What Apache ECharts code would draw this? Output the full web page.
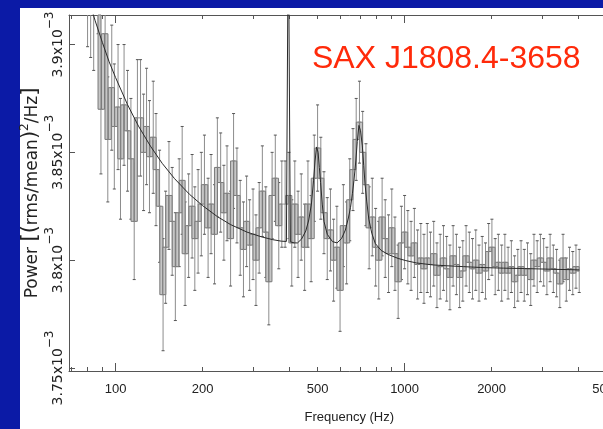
<!DOCTYPE html>
<html><head><meta charset="utf-8">
<script src="https://cdn.jsdelivr.net/npm/echarts@6/dist/echarts.min.js"></script>
<style>html,body{margin:0;padding:0;background:#0b1aa6;overflow:hidden}#c{width:640px;height:429px}</style>
</head><body><div id="c"></div>
<script>
// Frequency bins (Hz)
const freqs = [
  80, 82, 84, 87, 89, 92, 94, 97, 99, 102,
  104, 107, 110, 113, 116, 119, 122, 125, 128, 131,
  135, 138, 142, 146, 149, 153, 157, 161, 166, 170,
  174, 179, 184, 188, 193, 198, 203, 209, 214, 220,
  225, 231, 237, 243, 250, 256, 263, 270, 277, 284,
  291, 299, 306, 314, 322, 331, 339, 348, 357, 367,
  376, 386, 398, 407, 417, 428, 439, 451, 463, 475,
  487, 500, 513, 526, 540, 554, 568, 583, 598, 614,
  630, 646, 663, 680, 698, 716, 735, 754, 773, 794,
  814, 836, 857, 880, 903, 926, 950, 975, 1000, 1026,
  1053, 1081, 1109, 1138, 1167, 1198, 1229, 1261, 1294, 1328,
  1363, 1398, 1435, 1472, 1511, 1550, 1590, 1632, 1675, 1718,
  1763, 1809, 1856, 1905, 1954, 2005, 2058, 2111, 2167, 2223,
  2281, 2341, 2402, 2464, 2529, 2595, 2662, 2732, 2803, 2876,
  2951, 3028, 3107, 3188, 3271, 3357, 3444, 3534, 3626, 3721,
  3818, 3917, 4020
];
// Power, in units of 1e-3 (rms/mean)^2/Hz
const power = [
  3.930, 3.925, 3.918, 3.935, 3.870, 3.905, 3.856, 3.880, 3.862, 3.871,
  3.847, 3.872, 3.860, 3.847, 3.818, 3.866, 3.866, 3.850, 3.862, 3.848,
  3.857, 3.842, 3.825, 3.784, 3.806, 3.830, 3.818, 3.797, 3.822, 3.837,
  3.803, 3.816, 3.825, 3.810, 3.818, 3.826, 3.835, 3.815, 3.826, 3.812,
  3.843, 3.836, 3.822, 3.831, 3.810, 3.846, 3.830, 3.815, 3.805, 3.818,
  3.807, 3.812, 3.800, 3.815, 3.832, 3.813, 3.790, 3.830, 3.838, 3.816,
  3.826, 3.826, 3.830, 3.808, 3.826, 3.812, 3.820, 3.806, 3.826, 3.810,
  3.838, 3.852, 3.838, 3.822, 3.810, 3.814, 3.800, 3.806, 3.786, 3.816,
  3.808, 3.828, 3.842, 3.856, 3.864, 3.850, 3.835, 3.815, 3.820, 3.806,
  3.800, 3.820, 3.810, 3.803, 3.815, 3.803, 3.790, 3.808, 3.813, 3.806,
  3.802, 3.808, 3.798, 3.801, 3.796, 3.801, 3.798, 3.803, 3.793, 3.797,
  3.801, 3.796, 3.792, 3.802, 3.798, 3.792, 3.795, 3.802, 3.799, 3.796,
  3.800, 3.794, 3.798, 3.795, 3.804, 3.806, 3.797, 3.799, 3.794, 3.799,
  3.794, 3.797, 3.790, 3.793, 3.797, 3.793, 3.796, 3.791, 3.800, 3.797,
  3.801, 3.799, 3.795, 3.801, 3.796, 3.794, 3.789, 3.801, 3.791, 3.796,
  3.794, 3.797, 3.795
];
// 1-sigma errors, same units
const powerErr = [
  0.031, 0.031, 0.030, 0.030, 0.030, 0.030, 0.029, 0.029, 0.029, 0.029, 0.028, 0.028,
  0.028, 0.028, 0.027, 0.027, 0.027, 0.027, 0.027, 0.026, 0.026, 0.026, 0.026, 0.026,
  0.026, 0.025, 0.025, 0.025, 0.025, 0.025, 0.024, 0.024, 0.024, 0.024, 0.024,
  0.024, 0.023, 0.023, 0.023, 0.023, 0.023, 0.023, 0.022, 0.022, 0.022, 0.022, 0.022, 0.022, 0.022, 0.021, 0.021,
  0.021, 0.021, 0.021, 0.021, 0.021, 0.020, 0.020, 0.020, 0.020, 0.020, 0.020, 0.020, 0.020, 0.020, 0.020, 0.020, 0.020, 0.020, 0.020,
  0.020, 0.020, 0.019, 0.019, 0.019, 0.019, 0.019, 0.019, 0.019, 0.019, 0.019, 0.019, 0.019, 0.019, 0.019, 0.019,
  0.019, 0.019, 0.018, 0.018, 0.018, 0.018, 0.018, 0.018, 0.018, 0.017, 0.017, 0.017, 0.017,
  0.017, 0.016, 0.016, 0.016, 0.016, 0.016, 0.016, 0.015, 0.015, 0.015, 0.015, 0.015, 0.015, 0.015,
  0.014, 0.014, 0.014, 0.014, 0.014, 0.014, 0.014, 0.014, 0.013, 0.013, 0.013, 0.013, 0.013,
  0.013, 0.013, 0.013, 0.013, 0.012, 0.012, 0.012, 0.012, 0.012, 0.012, 0.012, 0.012, 0.012, 0.012,
  0.011, 0.011, 0.011, 0.011, 0.011, 0.011, 0.011, 0.011, 0.010, 0.010, 0.010, 0.010, 0.010
];
// Best-fit model curve (power-law + 401 Hz spike + two QPO Lorentzians)
const modelFreqs = [
  80, 85, 90, 95, 100, 110, 120, 132, 145, 160,
  180, 200, 225, 250, 285, 320, 350, 375, 390, 395,
  396, 401.5, 402.5, 415, 426, 440, 455, 466, 476, 484,
  490, 496, 502, 507, 512, 519, 526, 540, 563, 584,
  605, 624, 640, 650, 660, 668, 678, 686, 695, 704,
  714, 722, 730, 740, 752, 770, 792, 830, 882, 950,
  1010, 1100, 1250, 1400, 1600, 1835, 2200, 2600, 3200, 4020
];
const modelPower = [
  3.9227, 3.9110, 3.9010, 3.8920, 3.8847, 3.8721, 3.8622, 3.8529, 3.8449, 3.8378,
  3.8306, 3.8253, 3.8202, 3.8165, 3.8130, 3.8108, 3.8095, 3.8088, 3.8087, 3.8087,
  3.9600, 3.9600, 3.8085, 3.8080, 3.8080, 3.8098, 3.8135, 3.8186, 3.8260, 3.8368,
  3.8460, 3.8525, 3.8500, 3.8430, 3.8360, 3.8260, 3.8180, 3.8120, 3.8086, 3.8080,
  3.8100, 3.8140, 3.8200, 3.8245, 3.8310, 3.8370, 3.8460, 3.8550, 3.8625, 3.8600,
  3.8530, 3.8440, 3.8350, 3.8270, 3.8190, 3.8125, 3.8077, 3.8045, 3.8025, 3.8008,
  3.7998, 3.7987, 3.7978, 3.7974, 3.7970, 3.7966, 3.7963, 3.7961, 3.7958, 3.7955
];
const xLabelValues = [100, 200, 500, 1000, 2000, 5000];
const xMinorTicks = [70, 80, 90, 100, 200, 300, 400, 500, 600, 700, 800, 900, 1000, 2000, 3000, 4000, 5000];
const xMajorTicks = [100, 1000];
const yTickValues = [3.75, 3.8, 3.85, 3.9];
const yTickLabels = ['3.75', '3.8', '3.85', '3.9'];
const titleText = 'SAX J1808.4-3658';
const xName = 'Frequency (Hz)';
const yName = 'Power [(rms/mean)²/Hz]';

const FONT = '"Liberation Sans", Arial, "DejaVu Sans", sans-serif';
const WFONT = '"DejaVu Sans", "Liberation Sans", sans-serif';
const AX = '#555';
const chart = echarts.init(document.getElementById('c'), null, {renderer: 'canvas', width: 640, height: 429});

const errData = freqs.map((f, i) => [f, power[i] - powerErr[i], power[i] + powerErr[i]]);
const stepPairs = freqs.slice(0, -1).map((f, i) => [f, power[i], freqs[i + 1], power[i + 1]]);
const modelData = modelFreqs.map((f, i) => [f, modelPower[i]]);

const X_MIN = 69, X_MAX = 6000, Y_MIN = 3.7486, Y_MAX = 3.9137;

function xAx(extra) {
  return Object.assign({
    type: 'log', logBase: 10, min: X_MIN, max: X_MAX, gridIndex: 0,
    splitLine: {show: false}, axisLabel: {show: false},
    axisLine: {show: false}, axisTick: {show: false}
  }, extra);
}

function clampY(y, cs) { return Math.min(Math.max(y, cs.y), cs.y + cs.height); }

// y-axis title as rich text (same words as yName): bigger brackets, raised ²
const yNameRich = '{n|Power }{b|[(}{n|rms/mean}{b|)}{s|2}{n|/Hz}{b|]}';

const option = {
  backgroundColor: '#0b1aa6',
  animation: false,
  graphic: [
    {type: 'rect', z: -100, silent: true, shape: {x: 20, y: 8, width: 640, height: 430}, style: {fill: '#ffffff'}},
    {
      type: 'text', silent: true, x: 30, y: 193, rotation: Math.PI / 2, z: 10,
      style: {
        text: yNameRich, align: 'center', verticalAlign: 'middle',
        rich: {
          n: {fontSize: 17, fill: '#222', fontFamily: WFONT, lineHeight: 23, verticalAlign: 'bottom'},
          b: {fontSize: 21, fill: '#222', fontFamily: WFONT, lineHeight: 23, verticalAlign: 'bottom'},
          s: {fontSize: 12, fill: '#222', fontFamily: WFONT, lineHeight: 23, verticalAlign: 'top'}
        }
      }
    }
  ],
  title: {
    text: titleText, left: 307, top: 38,
    textStyle: {color: '#ff2a0a', fontSize: 32, fontWeight: 'normal', fontFamily: FONT}
  },
  grid: {left: 69, right: 10.5, top: 15, bottom: 52, show: false},
  xAxis: [
    xAx({
      position: 'bottom',
      axisLine: {show: true, onZero: false, lineStyle: {color: AX, width: 1}},
      axisTick: {show: true, inside: true, length: 4, customValues: xMinorTicks, lineStyle: {color: AX}},
      axisLabel: {show: true, customValues: xLabelValues, margin: 12, color: '#222', fontSize: 13, fontFamily: FONT,
        formatter: v => String(Math.round(v))},
      name: xName, nameLocation: 'middle', nameGap: 40,
      nameTextStyle: {color: '#222', fontSize: 13, fontFamily: FONT}
    }),
    xAx({position: 'bottom', axisTick: {show: true, inside: true, length: 8, customValues: xMajorTicks, lineStyle: {color: AX}}}),
    xAx({position: 'top', axisLine: {show: true, onZero: false, lineStyle: {color: AX, width: 1}},
      axisTick: {show: true, inside: true, length: 4, customValues: xMinorTicks, lineStyle: {color: AX}}}),
    xAx({position: 'top', axisTick: {show: true, inside: true, length: 8, customValues: xMajorTicks, lineStyle: {color: AX}}})
  ],
  yAxis: {
    type: 'value', min: Y_MIN, max: Y_MAX, position: 'left',
    splitLine: {show: false},
    axisLine: {show: true, onZero: false, lineStyle: {color: AX, width: 1}},
    axisTick: {show: true, inside: true, length: 6, customValues: yTickValues, lineStyle: {color: AX}},
    axisLabel: {
      customValues: yTickValues, rotate: 90, margin: 4,
      formatter: v => {
        let k = 0, best = 1e9;
        yTickValues.forEach((t, i) => { if (Math.abs(t - v) < best) { best = Math.abs(t - v); k = i; } });
        return '{m|' + yTickLabels[k] + 'x10}{s|\u22123}';
      },
      rich: {
        m: {fontSize: 14, color: '#222', fontFamily: WFONT, lineHeight: 21, verticalAlign: 'bottom'},
        s: {fontSize: 12, color: '#222', fontFamily: WFONT, lineHeight: 21, verticalAlign: 'top'}
      }
    }
  },
  series: [
    {
      type: 'custom', xAxisIndex: 0, yAxisIndex: 0, data: errData, z: 1, silent: true,
      renderItem: (params, api) => {
        const f = api.value(0);
        const lo = api.coord([f, api.value(1)]);
        const hi = api.coord([f, api.value(2)]);
        const cs = params.coordSys;
        const top = cs.y, bot = cs.y + cs.height;
        const x = lo[0];
        const y1 = Math.max(hi[1], top), y2 = Math.min(lo[1], bot);
        const ch = [];
        if (y2 > y1) ch.push({type: 'line', shape: {x1: x, y1: y1, x2: x, y2: y2}, style: {stroke: '#8c8c8c', lineWidth: 1}});
        if (hi[1] >= top) ch.push({type: 'line', shape: {x1: x - 1.5, y1: hi[1], x2: x + 1.5, y2: hi[1]}, style: {stroke: '#555', lineWidth: 1}});
        if (lo[1] <= bot) ch.push({type: 'line', shape: {x1: x - 1.5, y1: lo[1], x2: x + 1.5, y2: lo[1]}, style: {stroke: '#555', lineWidth: 1}});
        return {type: 'group', children: ch};
      }
    },
    {
      type: 'custom', xAxisIndex: 0, yAxisIndex: 0, data: stepPairs, z: 2, silent: true,
      renderItem: (params, api) => {
        const cs = params.coordSys;
        const p1 = api.coord([api.value(0), api.value(1)]);
        const p2 = api.coord([api.value(2), api.value(3)]);
        const xm = (p1[0] + p2[0]) / 2;
        const ya = clampY(p1[1], cs), yb = clampY(p2[1], cs);
        const ch = [];
        const inside = y => y >= cs.y && y <= cs.y + cs.height;
        if (inside(p1[1])) ch.push({type: 'line', shape: {x1: p1[0], y1: p1[1], x2: xm, y2: p1[1]}, style: {stroke: '#8a8a8a', lineWidth: 1}});
        if (inside(p2[1])) ch.push({type: 'line', shape: {x1: xm, y1: p2[1], x2: p2[0], y2: p2[1]}, style: {stroke: '#8a8a8a', lineWidth: 1}});
        const yt = Math.min(ya, yb), h = Math.abs(ya - yb);
        if (h > 0) ch.push({type: 'rect', shape: {x: xm - 1.5, y: yt, width: 3, height: h}, style: {fill: '#c6c6c6', stroke: '#7a7a7a', lineWidth: 1}});
        return {type: 'group', children: ch};
      }
    },
    {
      type: 'line', data: modelData, showSymbol: false, z: 5, silent: true, clip: true,
      lineStyle: {color: '#2a2a2a', width: 1}
    }
  ]
};
chart.setOption(option);
</script>
</body></html>
